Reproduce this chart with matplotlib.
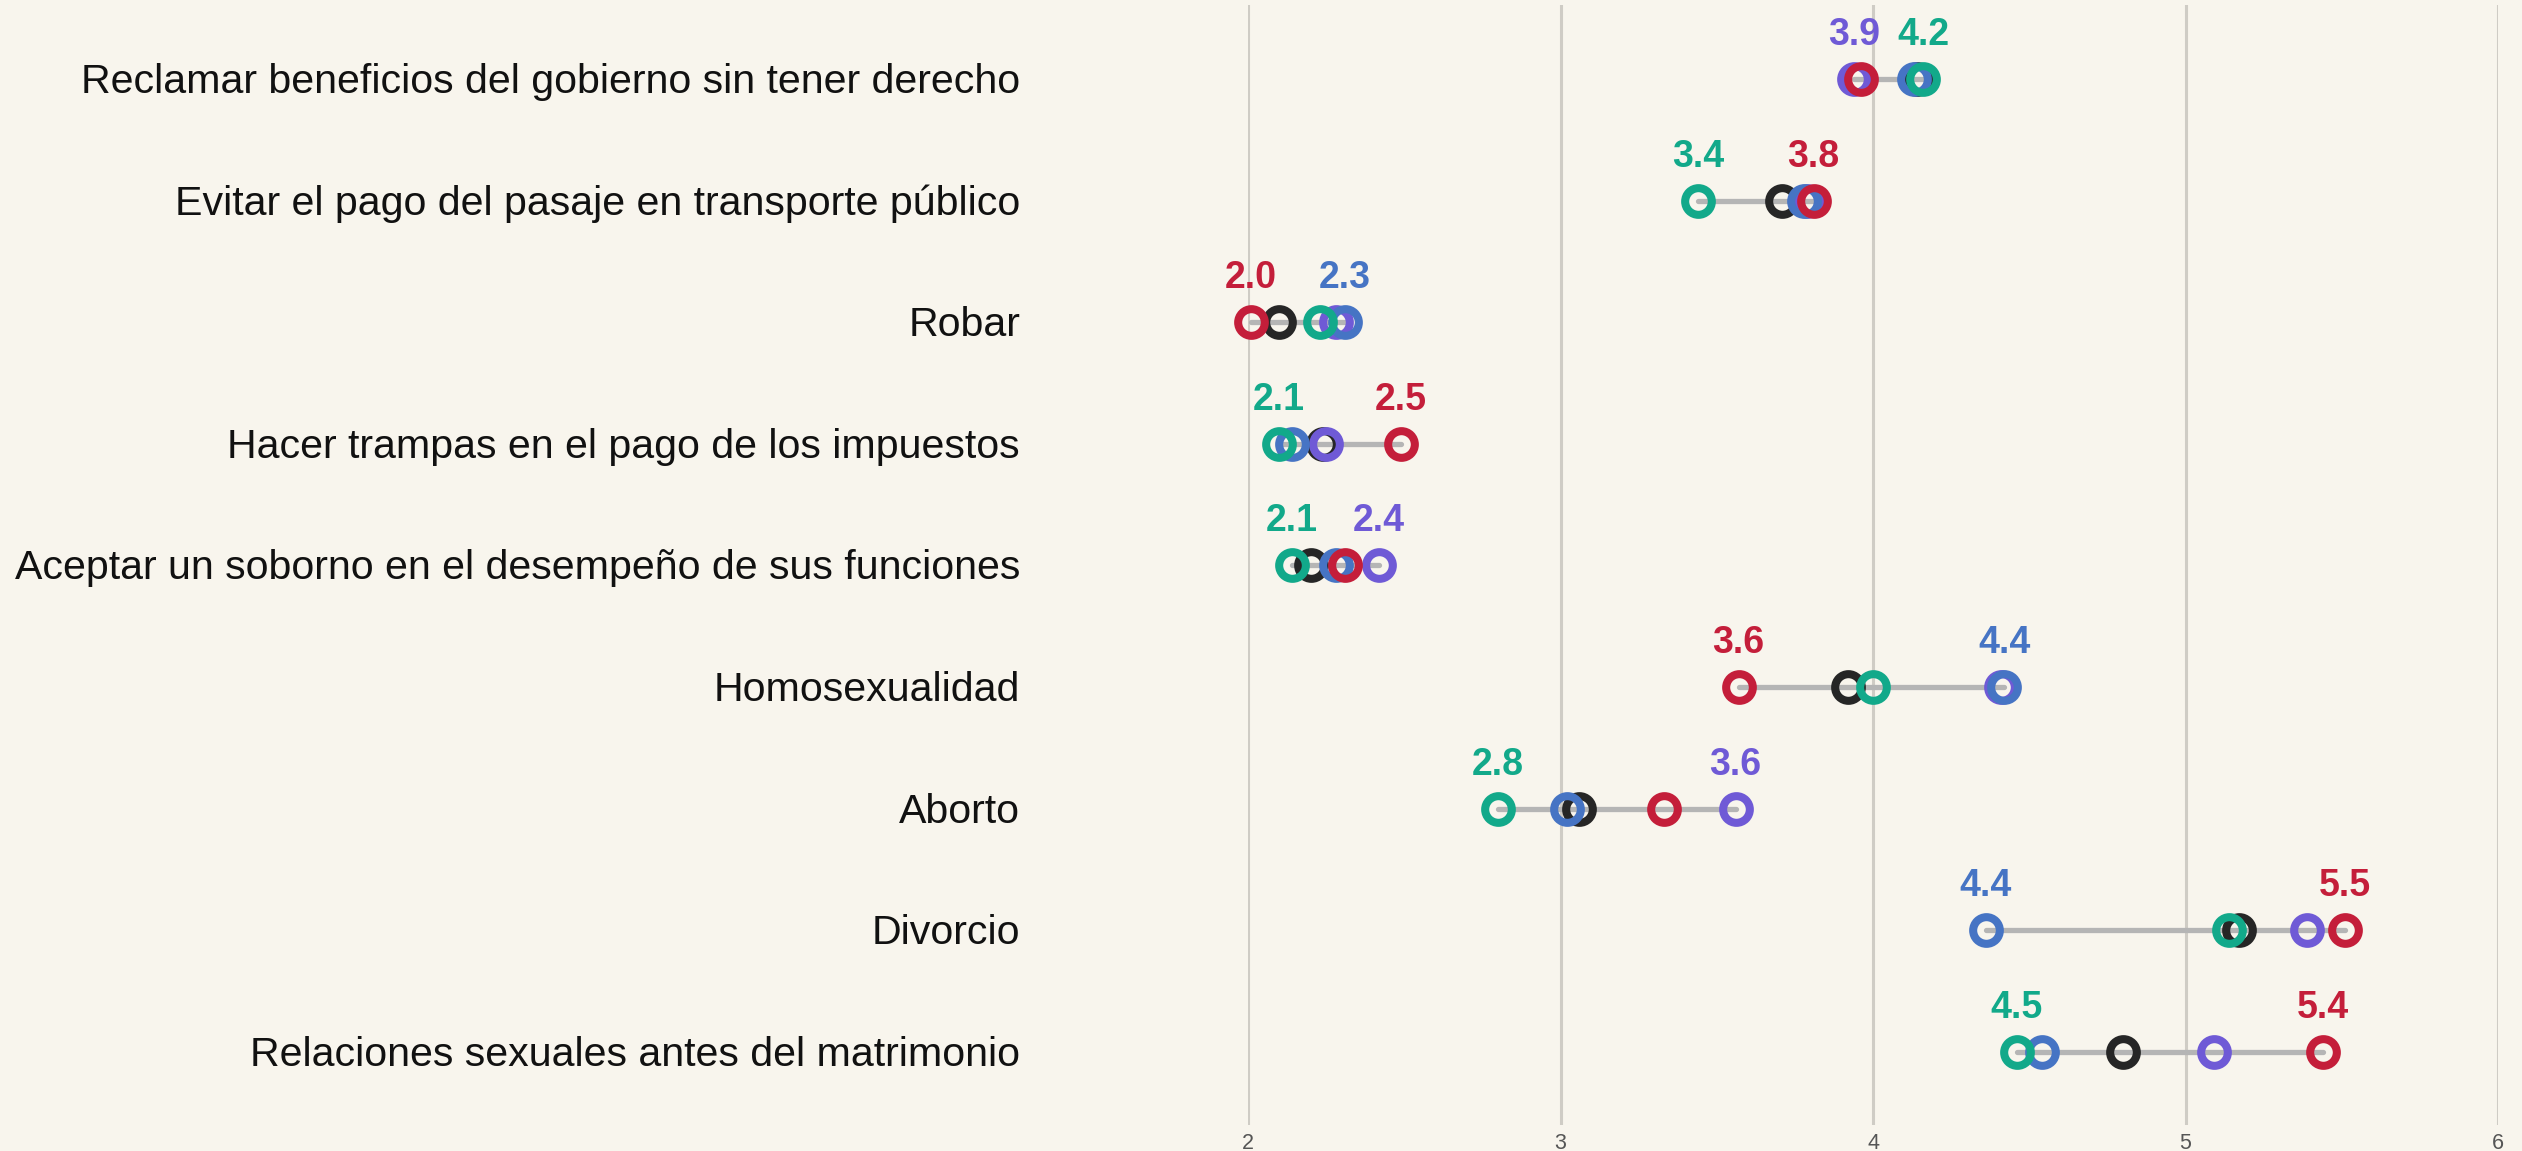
import matplotlib
matplotlib.use("Agg")
import matplotlib.pyplot as plt
import matplotlib.transforms as mtransforms

plt.rcParams['font.family'] = ['Liberation Sans', 'DejaVu Sans']

categories = [
    "Reclamar beneficios del gobierno sin tener derecho",
    "Evitar el pago del pasaje en transporte público",
    "Robar",
    "Hacer trampas en el pago de los impuestos",
    "Aceptar un soborno en el desempeño de sus funciones",
    "Homosexualidad",
    "Aborto",
    "Divorcio",
    "Relaciones sexuales antes del matrimonio",
]

black_vals  = [4.14, 3.71, 2.10, 2.24, 2.20, 3.92, 3.06, 5.17, 4.80]
purple_vals = [3.94, 3.79, 2.28, 2.25, 2.42, 4.41, 3.56, 5.39, 5.09]
blue_vals   = [4.13, 3.78, 2.31, 2.14, 2.28, 4.42, 3.02, 4.36, 4.54]
red_vals    = [3.96, 3.81, 2.01, 2.49, 2.31, 3.57, 3.33, 5.51, 5.44]
green_vals  = [4.16, 3.44, 2.23, 2.10, 2.14, 4.00, 2.80, 5.14, 4.46]

series = [
    ("black", black_vals, "#262626"),
    ("purple", purple_vals, "#6f5ad6"),
    ("blue", blue_vals, "#4674c4"),
    ("red", red_vals, "#c41e3a"),
    ("green", green_vals, "#12a98a"),
]

x_ticks = [2, 3, 4, 5, 6]

BG = "#f8f5ed"
W, H = 2522, 1151
fig = plt.figure(figsize=(W / 100, H / 100), dpi=100, facecolor=BG)
ax = fig.add_axes([1248 / W, 26 / H, 1250 / W, 1120 / H])
ax.set_facecolor(BG)

n = len(categories)
ys = list(range(n))

# connecting lines
for i in ys:
    vals = [s[1][i] for s in series]
    ax.plot([min(vals), max(vals)], [i, i], color="#b5b5b5", lw=3.8,
            solid_capstyle="round", zorder=2, clip_on=False)

# markers
for z, (name, vals, col) in enumerate(series):
    ax.plot(vals, ys, linestyle="none", marker="o", ms=19.2, mew=5.8,
            mfc="none", mec=col, zorder=3 + z, clip_on=False)

# min / max labels
for i in ys:
    vals = [(s[1][i], s[2]) for s in series]
    lo = min(vals, key=lambda t: t[0])
    hi = max(vals, key=lambda t: t[0])
    for v, col in (lo, hi):
        ax.annotate(f"{v:.1f}", (v, i), xytext=(0, 24.5), textcoords="offset points",
                    ha="center", va="baseline", fontsize=27, fontweight="bold",
                    color=col, zorder=10, annotation_clip=False)

# category labels
trans = mtransforms.blended_transform_factory(fig.transFigure, ax.transData) + \
    mtransforms.ScaledTranslation(0, -3 / 100, fig.dpi_scale_trans)
for i, c in enumerate(categories):
    ax.text(1020 / W, i, c, transform=trans, ha="right", va="center",
            fontsize=29.6, color="#111111")

ax.set_xlim(2, 6)
ax.set_ylim(n - 1 + 0.6, -0.608)
ax.set_xticks(x_ticks)
ax.set_xticklabels([str(t) for t in x_ticks])
ax.set_yticks([])
ax.tick_params(axis="x", length=0, pad=6, labelsize=15.5, labelcolor="#555555")
ax.grid(axis="x", color="#cfccc5", lw=2.2, zorder=0)
ax.set_axisbelow(True)
for sp in ax.spines.values():
    sp.set_visible(False)

fig.savefig("out.png", dpi=100, facecolor=BG)
